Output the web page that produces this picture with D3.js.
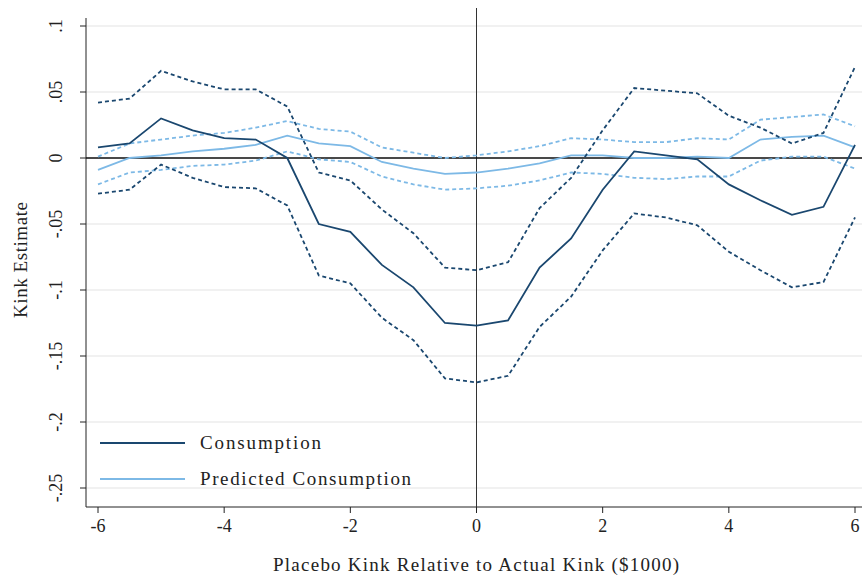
<!DOCTYPE html>
<html>
<head>
<meta charset="utf-8">
<script src="https://d3js.org/d3.v7.min.js"></script>
<style>body{margin:0;background:#fff}text{font-family:"Liberation Serif",serif;fill:#222}</style>
</head>
<body>
<div id="chart"></div>
<script>
var xs = d3.range(-6, 6.01, 0.5);
var cons = [0.008,0.011,0.030,0.021,0.015,0.014,0,-0.050,-0.056,-0.081,-0.098,-0.125,-0.127,-0.123,-0.083,-0.061,-0.024,0.005,0.002,-0.001,-0.020,-0.032,-0.043,-0.037,0.010];
var consHi = [0.042,0.045,0.066,0.058,0.052,0.052,0.039,-0.011,-0.017,-0.039,-0.057,-0.083,-0.085,-0.079,-0.038,-0.015,0.021,0.053,0.051,0.049,0.032,0.023,0.011,0.019,0.069];
var consLo = [-0.027,-0.024,-0.005,-0.015,-0.022,-0.023,-0.036,-0.089,-0.095,-0.121,-0.138,-0.167,-0.170,-0.165,-0.128,-0.105,-0.070,-0.042,-0.045,-0.051,-0.071,-0.085,-0.098,-0.094,-0.045];
var pred = [-0.009,0,0.002,0.005,0.007,0.010,0.017,0.011,0.009,-0.003,-0.008,-0.012,-0.011,-0.008,-0.004,0.002,0.002,0,0,0.001,0,0.014,0.016,0.017,0.008];
var predHi = [0.001,0.011,0.014,0.017,0.019,0.023,0.028,0.022,0.020,0.008,0.004,0,0.002,0.005,0.009,0.015,0.014,0.012,0.012,0.015,0.014,0.029,0.031,0.033,0.024];
var predLo = [-0.020,-0.011,-0.009,-0.006,-0.005,-0.002,0.005,-0.001,-0.003,-0.014,-0.020,-0.024,-0.023,-0.021,-0.017,-0.011,-0.012,-0.015,-0.016,-0.014,-0.014,-0.002,0.001,0.001,-0.008];
var yTicks = [0.1,0.05,0,-0.05,-0.1,-0.15,-0.2,-0.25];
var yLabels = [".1",".05","0","-.05","-.1","-.15","-.2","-.25"];
var xTicks = [-6,-4,-2,0,2,4,6];

var dark = "#1a476f", light = "#7db9e6";
var svg = d3.select("#chart").append("svg").attr("width", 862).attr("height", 579);
var x = d3.scaleLinear().domain([-6, 6]).range([98, 855]);
var y = d3.scaleLinear().domain([-0.25, 0.1]).range([488, 26]);

svg.selectAll(".grid").data(yTicks).enter().append("line")
  .attr("x1", 86).attr("x2", 862).attr("y1", d => y(d)).attr("y2", d => y(d))
  .attr("stroke", "#e3e3e3").attr("stroke-width", 1);

// axes
svg.append("line").attr("x1", 86).attr("x2", 86).attr("y1", 18).attr("y2", 507).attr("stroke", "#222");
svg.append("line").attr("x1", 86).attr("x2", 862).attr("y1", 507).attr("y2", 507).attr("stroke", "#222");
svg.selectAll(".yt").data(yTicks).enter().append("line")
  .attr("x1", 80).attr("x2", 86).attr("y1", d => y(d)).attr("y2", d => y(d)).attr("stroke", "#222");
svg.selectAll(".yl").data(yTicks).enter().append("text")
  .attr("transform", d => "translate(62," + y(d) + ") rotate(-90)")
  .attr("text-anchor", "middle").attr("font-size", 18).text((d, i) => yLabels[i]);
svg.selectAll(".xt").data(xTicks).enter().append("line")
  .attr("x1", d => x(d)).attr("x2", d => x(d)).attr("y1", 507).attr("y2", 513).attr("stroke", "#222");
svg.selectAll(".xl").data(xTicks).enter().append("text")
  .attr("x", d => x(d)).attr("y", 532).attr("text-anchor", "middle").attr("font-size", 18).text(d => d);
svg.append("text").attr("x", 476).attr("y", 571).attr("text-anchor", "middle").attr("font-size", 19)
  .attr("textLength", 406).attr("lengthAdjust", "spacing")
  .text("Placebo Kink Relative to Actual Kink ($1000)");
svg.append("text").attr("transform", "translate(27,260) rotate(-90)").attr("text-anchor", "middle")
  .attr("font-size", 19).attr("textLength", 116).attr("lengthAdjust", "spacing").text("Kink Estimate");

// reference lines
svg.append("line").attr("x1", x(0)).attr("x2", x(0)).attr("y1", 8).attr("y2", 507).attr("stroke", "#333").attr("stroke-width", 1);
svg.append("line").attr("x1", 86).attr("x2", 862).attr("y1", y(0)).attr("y2", y(0)).attr("stroke", "#111").attr("stroke-width", 1.5);

var line = d3.line().x((d, i) => x(xs[i])).y(d => y(d));
function draw(data, color, dashed) {
  svg.append("path").attr("d", line(data)).attr("fill", "none").attr("stroke", color)
    .attr("stroke-width", 1.8).attr("stroke-dasharray", dashed ? "4,3" : null);
}
draw(predHi, light, true); draw(predLo, light, true); draw(pred, light, false);
draw(consHi, dark, true); draw(consLo, dark, true); draw(cons, dark, false);

var legend = [["Consumption", dark, 121], ["Predicted Consumption", light, 211]];
legend.forEach(function(l, i) {
  var ly = 443 + i * 36;
  svg.append("line").attr("x1", 100).attr("x2", 185).attr("y1", ly).attr("y2", ly)
    .attr("stroke", l[1]).attr("stroke-width", 1.8);
  svg.append("text").attr("x", 200).attr("y", ly + 6).attr("font-size", 19)
    .attr("textLength", l[2]).attr("lengthAdjust", "spacing").text(l[0]);
});
</script>
</body>
</html>
